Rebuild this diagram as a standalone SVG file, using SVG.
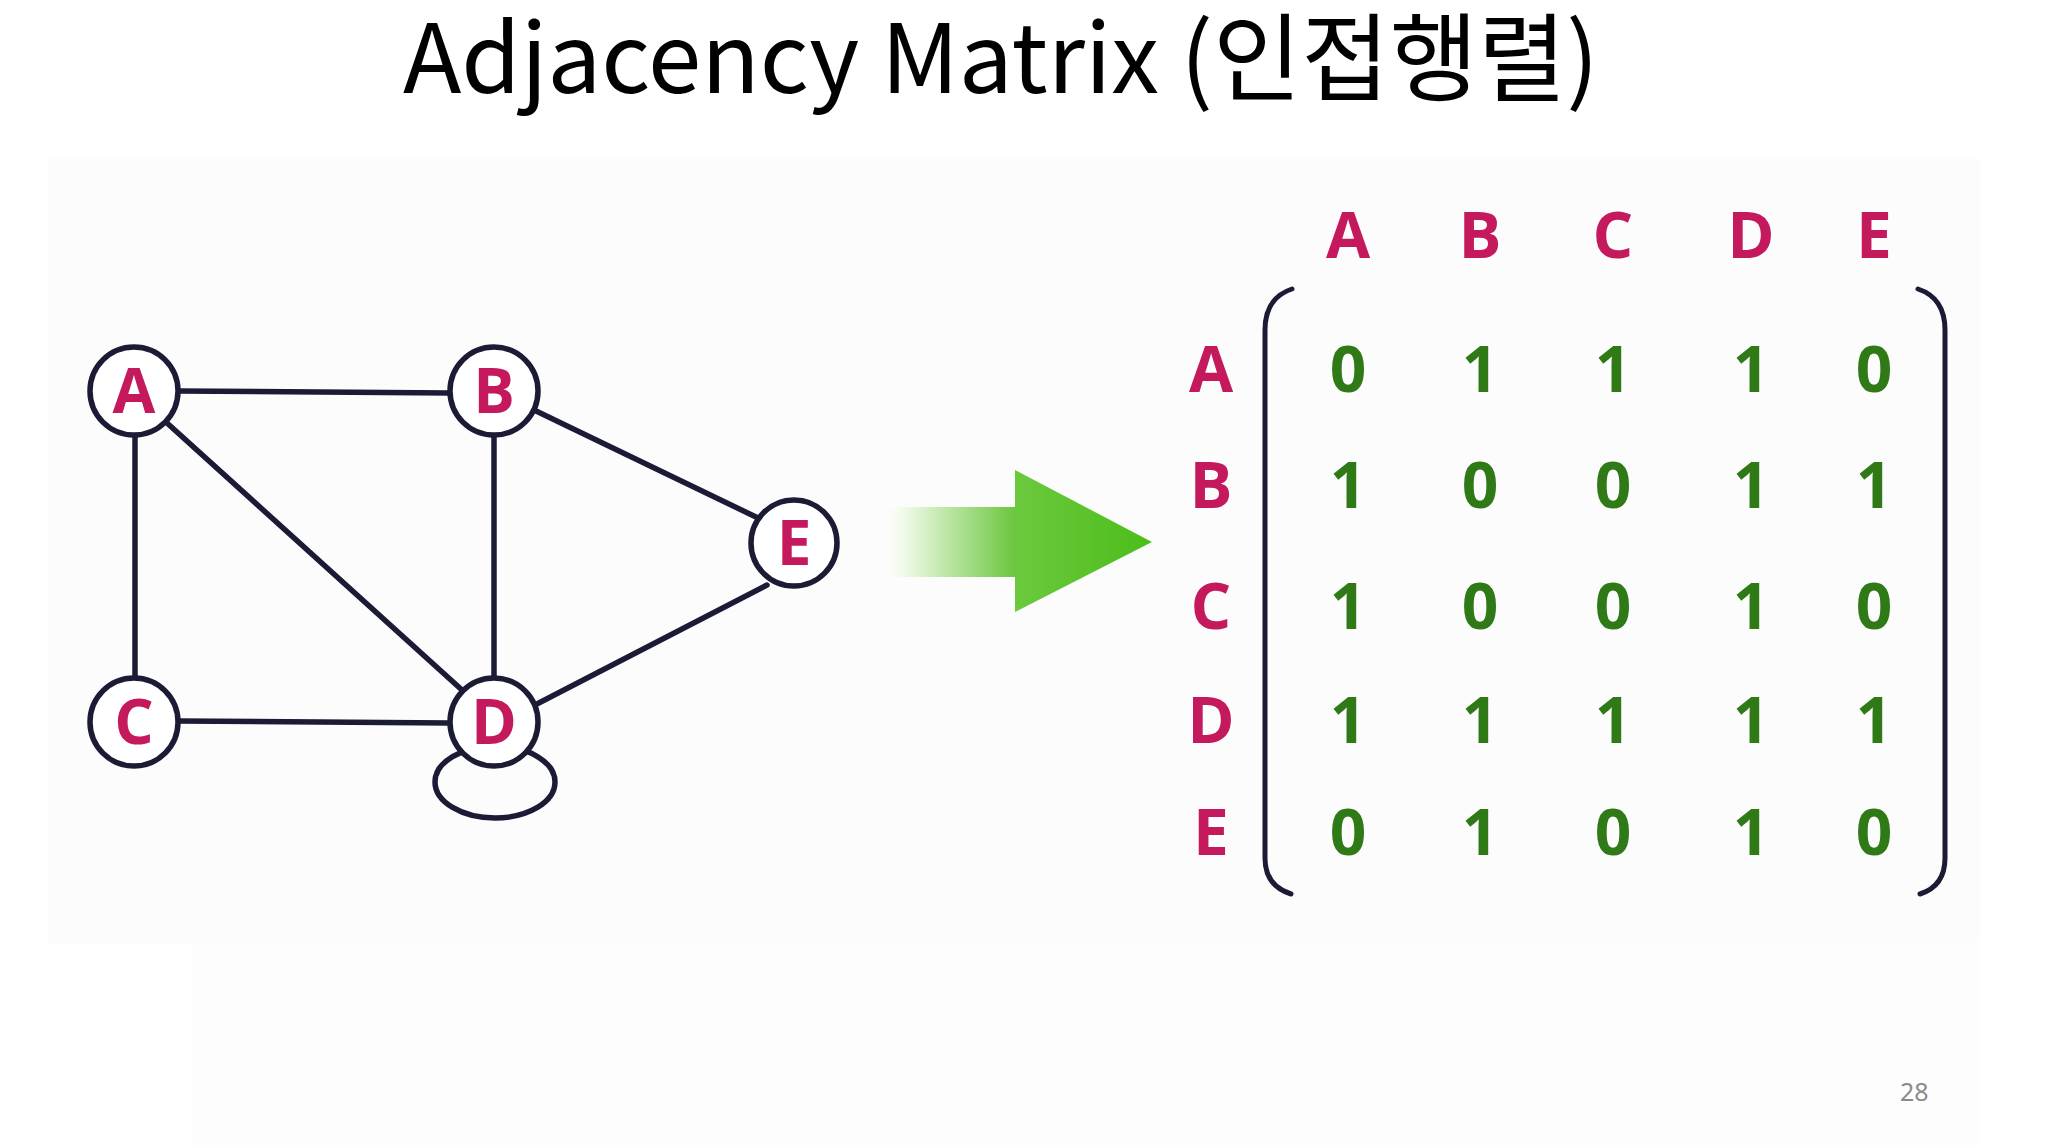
<svg xmlns="http://www.w3.org/2000/svg" width="2048" height="1145" viewBox="0 0 2048 1145">
<defs>
<style>
.bg{fill:#fcfcfd}
.edge{stroke:#1b1b36;stroke-width:5.5;fill:none;stroke-linecap:round}
.node circle{fill:#ffffff;stroke:#1b1b36;stroke-width:5.5}
.lbl{font-family:"Open Sans","Noto Sans",sans-serif;font-weight:700;fill:#c4195c;text-anchor:middle}
.nl{font-size:62px}
.ml{font-size:64px}
.num{font-family:"Open Sans","Noto Sans",sans-serif;font-weight:700;font-size:64px;fill:#2f7a16;text-anchor:middle}
.br{stroke:#1b1b36;stroke-width:5;fill:none;stroke-linecap:round}
.title{font-family:"Noto Sans CJK KR","Noto Sans",sans-serif;font-size:96px;fill:#000000}
.pg{font-family:"Noto Sans","Open Sans",sans-serif;font-size:25px;fill:#8a8a8a}
</style>
<linearGradient id="shaft" x1="878" y1="0" x2="1016" y2="0" gradientUnits="userSpaceOnUse">
<stop offset="0" stop-color="#ffffff" stop-opacity="0"/>
<stop offset="0.2" stop-color="#eef9e6"/>
<stop offset="1" stop-color="#6ac63c"/>
</linearGradient>
<linearGradient id="head" x1="1015" y1="0" x2="1152" y2="0" gradientUnits="userSpaceOnUse">
<stop offset="0" stop-color="#6cc93e"/>
<stop offset="1" stop-color="#4cbd1a"/>
</linearGradient>
</defs>
<rect width="2048" height="1145" fill="#ffffff"/>
<rect class="bg" x="48" y="159" width="1932" height="785"/>
<rect x="192" y="943" width="1788" height="202" fill="#fdfdfe"/>

<text class="title" x="403" y="93">Adjacency Matrix (인접행렬)</text>

<g id="connectors">
<line class="edge" x1="178" y1="391" x2="450" y2="393"/>
<line class="edge" x1="135" y1="436" x2="135" y2="677"/>
<line class="edge" x1="167" y1="423" x2="462" y2="690"/>
<line class="edge" x1="494" y1="436" x2="494" y2="677"/>
<line class="edge" x1="534" y1="410" x2="756" y2="517"/>
<line class="edge" x1="178" y1="721" x2="450" y2="723"/>
<line class="edge" x1="533" y1="706" x2="767" y2="585"/>
<ellipse id="loop-D" class="edge" cx="495" cy="782" rx="60" ry="36"/>
</g>

<g id="node-A" class="node"><circle cx="134" cy="391" r="44"/><text class="lbl nl" x="134" y="413">A</text></g>
<g id="node-B" class="node"><circle cx="494" cy="391" r="44"/><text class="lbl nl" x="494" y="413">B</text></g>
<g id="node-C" class="node"><circle cx="134" cy="722" r="44"/><text class="lbl nl" x="134" y="744">C</text></g>
<g id="node-D" class="node"><circle cx="494" cy="722" r="44"/><text class="lbl nl" x="494" y="744">D</text></g>
<g id="node-E" class="node"><circle cx="794" cy="543" r="43"/><text class="lbl nl" x="794" y="565">E</text></g>

<g id="arrow">
<rect x="878" y="507" width="139" height="70" fill="url(#shaft)"/>
<polygon points="1015,470 1152,542 1015,612" fill="url(#head)"/>
</g>

<g id="matrix">
<g id="col-labels">
<text class="lbl ml" x="1348" y="258">A</text>
<text class="lbl ml" x="1480" y="258">B</text>
<text class="lbl ml" x="1613" y="258">C</text>
<text class="lbl ml" x="1751" y="258">D</text>
<text class="lbl ml" x="1874" y="258">E</text>
</g>
<g id="row-labels">
<text class="lbl ml" x="1211" y="392">A</text>
<text class="lbl ml" x="1211" y="508">B</text>
<text class="lbl ml" x="1211" y="629">C</text>
<text class="lbl ml" x="1211" y="743">D</text>
<text class="lbl ml" x="1211" y="855">E</text>
</g>
<path class="br" d="M1292,289 Q1265,298 1265,330 L1265,858 Q1265,886 1291,894"/>
<path class="br" d="M1918,289 Q1945,298 1945,330 L1945,858 Q1945,886 1920,894"/>
<g id="cells">
<text class="num" x="1348" y="392">0</text><text class="num" x="1480" y="392">1</text><text class="num" x="1613" y="392">1</text><text class="num" x="1751" y="392">1</text><text class="num" x="1874" y="392">0</text>
<text class="num" x="1348" y="508">1</text><text class="num" x="1480" y="508">0</text><text class="num" x="1613" y="508">0</text><text class="num" x="1751" y="508">1</text><text class="num" x="1874" y="508">1</text>
<text class="num" x="1348" y="629">1</text><text class="num" x="1480" y="629">0</text><text class="num" x="1613" y="629">0</text><text class="num" x="1751" y="629">1</text><text class="num" x="1874" y="629">0</text>
<text class="num" x="1348" y="743">1</text><text class="num" x="1480" y="743">1</text><text class="num" x="1613" y="743">1</text><text class="num" x="1751" y="743">1</text><text class="num" x="1874" y="743">1</text>
<text class="num" x="1348" y="855">0</text><text class="num" x="1480" y="855">1</text><text class="num" x="1613" y="855">0</text><text class="num" x="1751" y="855">1</text><text class="num" x="1874" y="855">0</text>
</g>
</g>

<text class="pg" x="1900" y="1101">28</text>
</svg>
